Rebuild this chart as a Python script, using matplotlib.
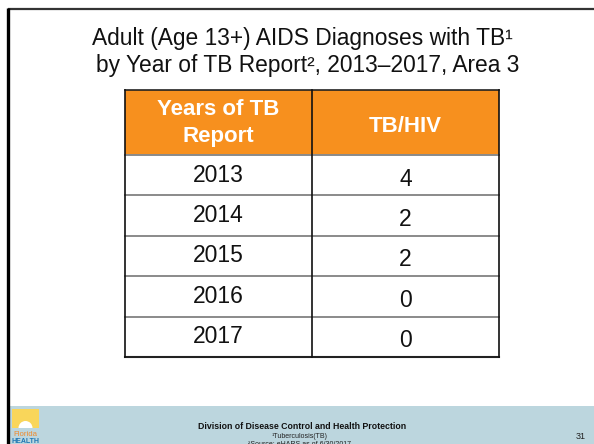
import matplotlib
matplotlib.use('Agg')
import matplotlib.pyplot as plt
from matplotlib.patches import Rectangle, Wedge

plt.rcParams['font.family'] = ['Liberation Sans', 'DejaVu Sans']

years = ['2013', '2014', '2015', '2016', '2017']
tb_hiv = [4, 2, 2, 0, 0]
header = ['Years of TB\nReport', 'TB/HIV']
title1 = 'Adult (Age 13+) AIDS Diagnoses with TB\u00b9'
title2 = 'by Year of TB Report\u00b2, 2013\u20132017, Area 3'
footer_title = 'Division of Disease Control and Health Protection'
footnotes = ['\u00b9Tuberculosis(TB)', '\u00b2Source: eHARS as of 6/30/2017']
page = '31'

ORANGE = '#F7901E'
BAND = '#BCD6DE'

fig = plt.figure(figsize=(5.94, 4.44), dpi=100)
ax = fig.add_axes([0, 0, 1, 1])
ax.set_xlim(0, 594)
ax.set_ylim(444, 0)
ax.axis('off')

# slide frame
ax.plot([7.5, 594], [9, 9], color='#333333', lw=1.6, solid_capstyle='butt')
ax.plot([7.5, 7.5], [8, 444], color='black', lw=2.4, solid_capstyle='butt')

# title
ax.text(302, 45, title1, ha='center', va='baseline', fontsize=16.4, color='#111111')
ax.text(308, 72, title2, ha='center', va='baseline', fontsize=16.4, color='#111111')

# table
x0, x1, x2 = 125, 312, 499
top, head_bot = 90, 155
row_h = (357 - head_bot) / len(years)

ax.add_patch(Rectangle((x0, top), x2 - x0, head_bot - top, facecolor=ORANGE, edgecolor='none'))
ax.text((x0 + x1) / 2, 115, header[0].split('\n')[0], ha='center', va='baseline',
        fontsize=16, fontweight='bold', color='white')
ax.text((x0 + x1) / 2, 141.7, header[0].split('\n')[1], ha='center', va='baseline',
        fontsize=16, fontweight='bold', color='white')
ax.text((x1 + x2) / 2, 131.7, header[1], ha='center', va='baseline',
        fontsize=16, fontweight='bold', color='white')

for i, (yr, v) in enumerate(zip(years, tb_hiv)):
    ytop = head_bot + i * row_h
    ax.plot([x0, x2], [ytop, ytop], color='#8a8a8a', lw=1.4)
    ax.text((x0 + x1) / 2, ytop + 26.5, yr, ha='center', va='baseline', fontsize=16.5, color='#111111')
    ax.text((x1 + x2) / 2, ytop + 30.5, str(v), ha='center', va='baseline', fontsize=16.5, color='#111111')

bottom = head_bot + len(years) * row_h
ax.plot([x0, x2], [bottom, bottom], color='#222222', lw=1.5)
ax.plot([x0, x2], [top, top], color='#222222', lw=1.2)
for xx in (x0, x1, x2):
    ax.plot([xx, xx], [top, bottom], color='#111111', lw=1.2)

# footer band
ax.add_patch(Rectangle((9, 406), 594 - 9, 38, facecolor=BAND, edgecolor='none'))
ax.text(302, 426.5, footer_title, ha='center', va='center', fontsize=6.3, fontweight='bold', color='#111111')
ax.text(300, 436, footnotes[0], ha='center', va='center', fontsize=5, color='#222222')
ax.text(300, 444.5, footnotes[1], ha='center', va='center', fontsize=5, color='#222222')
ax.text(581, 436, page, ha='center', va='center', fontsize=6.5, color='#222222')

# logo
ax.add_patch(Rectangle((12, 409), 27, 19, facecolor='#F9D65A', edgecolor='none'))
ax.add_patch(Wedge((25.5, 428), 7, 180, 360, facecolor='white', edgecolor='none'))
ax.text(25.5, 434, 'Florida', ha='center', va='center', fontsize=5.6, color='#F08A2C')
ax.text(25.5, 441.5, 'HEALTH', ha='center', va='center', fontsize=5, fontweight='bold', color='#1F77B4')

fig.savefig('out.png', dpi=100)
